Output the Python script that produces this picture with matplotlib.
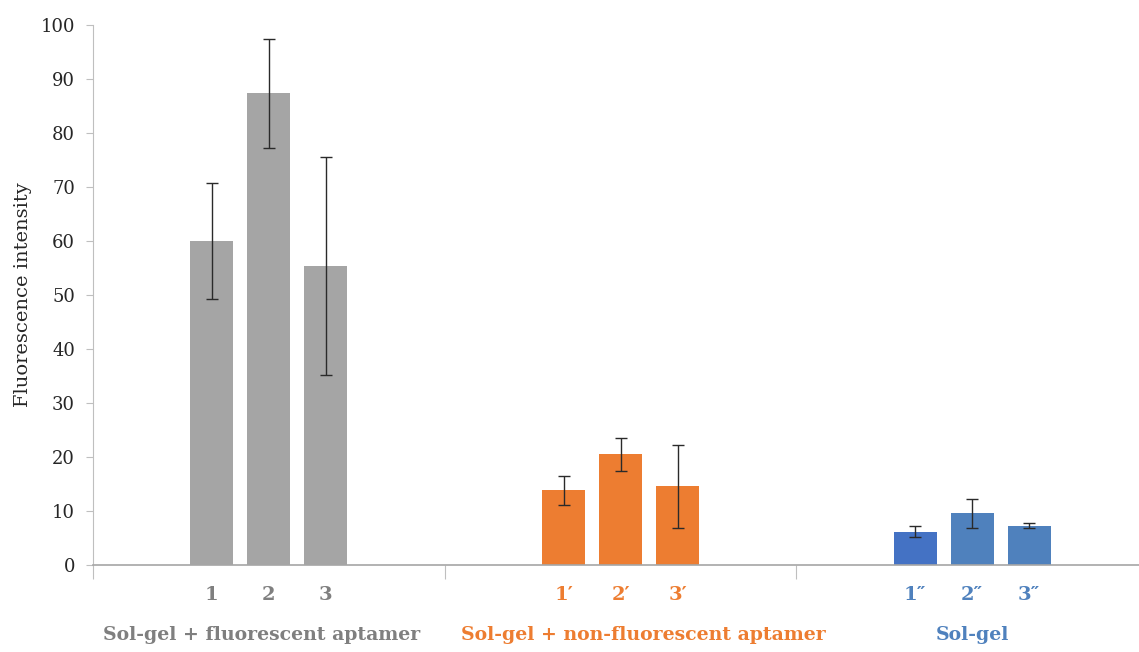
import matplotlib
matplotlib.use("Agg")
import matplotlib.pyplot as plt
import numpy as np

# ---- data ----
groups = ["Sol-gel + fluorescent aptamer", "Sol-gel + non-fluorescent aptamer", "Sol-gel"]
bar_labels = [["1", "2", "3"], ["1\u2032", "2\u2032", "3\u2032"], ["1\u2033", "2\u2033", "3\u2033"]]
values = [[60.0, 87.4, 55.3], [13.8, 20.5, 14.6], [6.2, 9.6, 7.3]]
errors = [[10.8, 10.1, 20.2], [2.6, 3.0, 7.7], [1.0, 2.7, 0.45]]
bar_colors = [["#A5A5A5"] * 3, ["#ED7D31"] * 3, ["#4472C4", "#4F81BD", "#4F81BD"]]
label_colors = ["#7F7F7F", "#ED7D31", "#4F81BD"]
yticks = [0, 10, 20, 30, 40, 50, 60, 70, 80, 90, 100]

W, H = 1139, 652
fig = plt.figure(figsize=(W / 100, H / 100), dpi=100)
ax = fig.add_axes([93 / W, 87 / H, (W - 93) / W, 540 / H])

serif = ["DejaVu Serif", "DejaVu Sans"]
offsets = [-0.162, 0.0, 0.162]
width = 0.122

for g in range(len(groups)):
    for i in range(3):
        x = g + offsets[i]
        ax.bar(x, values[g][i], width=width, color=bar_colors[g][i], zorder=2)
        ax.errorbar(x, values[g][i], yerr=errors[g][i], fmt="none",
                    ecolor="#2a2a2a", elinewidth=1.0, capsize=4, capthick=1.0, zorder=3)
        ax.text(x, -0.0556, bar_labels[g][i], transform=ax.get_xaxis_transform(),
                ha="center", va="center", fontsize=14, fontweight="bold",
                color=label_colors[g], family=serif)

group_label_x = [-0.02, 1.064, 2.0]
for g in range(len(groups)):
    ax.text(group_label_x[g], -0.1296, groups[g], transform=ax.get_xaxis_transform(),
            ha="center", va="center", fontsize=13.6, fontweight="bold",
            color=label_colors[g], family=serif)

ax.set_xlim(-0.5, -0.5 + (W - 93) / 351.7)
ax.set_ylim(0, 100)
ax.set_yticks(yticks)
ax.set_yticklabels([str(t) for t in yticks], family=serif, fontsize=13, color="#262626")
ax.tick_params(axis="y", direction="out", length=5, width=0.8, color="#BFBFBF", pad=8)

ax.set_xticks([-0.5, 0.5, 1.5])
ax.set_xticklabels([])
ax.tick_params(axis="x", direction="out", length=10, width=0.8, color="#BFBFBF")

for s in ["top", "right"]:
    ax.spines[s].set_visible(False)
ax.spines["left"].set_color("#BFBFBF")
ax.spines["left"].set_linewidth(0.8)
ax.spines["bottom"].set_color("#A6A6A6")
ax.spines["bottom"].set_linewidth(1.2)

ax.set_ylabel("Fluorescence intensity", family=serif, fontsize=14, color="#262626", labelpad=6)

fig.savefig("out.png", dpi=100)
